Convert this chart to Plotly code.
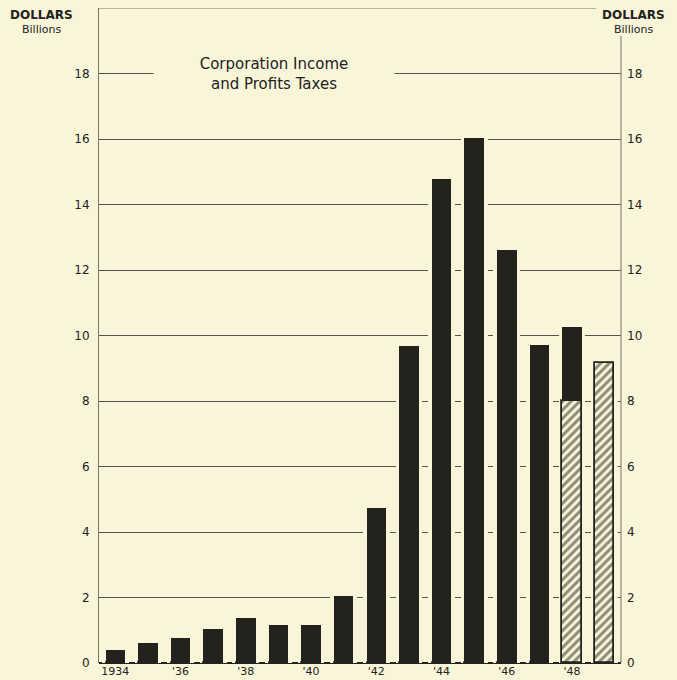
import plotly.graph_objects as go

years = list(range(1934, 1950))
solid_part = [0.4, 0.6, 0.75, 1.05, 1.37, 1.16, 1.15, 2.05, 4.74, 9.67, 14.77, 16.03, 12.6, 9.7, 2.25, 0.0]
hatched_part = [0, 0, 0, 0, 0, 0, 0, 0, 0, 0, 0, 0, 0, 0, 8.0, 9.15]
totals = [a + b for a, b in zip(solid_part, hatched_part)]
y_ticks = [0, 2, 4, 6, 8, 10, 12, 14, 16, 18]
x_tickvals = [1934, 1936, 1938, 1940, 1942, 1944, 1946, 1948]
x_ticktext = ["1934", "'36", "'38", "'40", "'42", "'44", "'46", "'48"]

BG = "#f9f5d9"
INK = "#23221d"
GRID = "#55544a"
FONT = "DejaVu Sans"

fig = go.Figure()
# cream halo behind bars (interrupts grid lines next to bars)
fig.add_trace(go.Bar(x=years, y=totals, width=0.82, marker=dict(color=BG, line=dict(width=0)),
                     hoverinfo="skip", showlegend=False))
fig.add_trace(go.Bar(x=years, y=hatched_part, width=0.6,
                     marker=dict(color=BG, line=dict(color=INK, width=1.8),
                                 pattern=dict(shape="/", fgcolor=INK, bgcolor=BG, size=6, solidity=0.5)),
                     showlegend=False))
fig.add_trace(go.Bar(x=years, y=solid_part, base=hatched_part, width=0.6,
                     marker=dict(color=INK, line=dict(width=0)), showlegend=False))
# invisible trace for right axis
fig.add_trace(go.Scatter(x=[years[0]], y=[0], yaxis="y2", mode="markers",
                         marker=dict(opacity=0), hoverinfo="skip", showlegend=False))

fig.update_layout(
    width=677, height=680,
    margin=dict(l=99, r=56, t=8, b=17),
    paper_bgcolor=BG, plot_bgcolor=BG,
    barmode="overlay", bargap=0,
    font=dict(family=FONT, color=INK, size=11),
    xaxis=dict(range=[1933.5, 1949.5], tickvals=x_tickvals, ticktext=x_ticktext,
               showgrid=False, zeroline=False, showline=False, ticks="",
               tickfont=dict(size=11), ticklabelstandoff=0, automargin=False),
    yaxis=dict(range=[0, 20], tickvals=y_ticks, showgrid=True, gridcolor=GRID, gridwidth=1,
               zeroline=True, zerolinecolor=INK, zerolinewidth=1.5,
               showline=True, linecolor="#77766a", linewidth=1, ticks="",
               ticklabelstandoff=6, tickfont=dict(size=12), automargin=False),
    yaxis2=dict(range=[0, 20], tickvals=y_ticks, overlaying="y", side="right",
                showgrid=False, zeroline=False, showline=False, ticks="",
                ticklabelstandoff=5, tickfont=dict(size=12), automargin=False),
    shapes=[
        dict(type="line", xref="paper", yref="y", x0=0, x1=0.953, y0=20, y1=20,
             line=dict(color="#77766a", width=1)),
        dict(type="line", xref="paper", yref="y", x0=1, x1=1, y0=0, y1=19.15,
             line=dict(color="#77766a", width=1)),
    ],
    annotations=[
        dict(text="Corporation Income<br>and Profits Taxes", xref="paper", yref="y",
             x=(274 - 99) / 522, y=18, xanchor="center", yanchor="middle", showarrow=False,
             bgcolor=BG, width=238, font=dict(size=15, family=FONT, color=INK)),
        dict(text="<b>DOLLARS</b>", xref="paper", yref="paper", x=(41 - 99) / 522, y=(680 - 15 - 17) / 655,
             xanchor="center", yanchor="middle", showarrow=False, font=dict(size=12)),
        dict(text="Billions", xref="paper", yref="paper", x=(41 - 99) / 522, y=(680 - 29 - 17) / 655,
             xanchor="center", yanchor="middle", showarrow=False, font=dict(size=11)),
        dict(text="<b>DOLLARS</b>", xref="paper", yref="paper", x=(633 - 99) / 522, y=(680 - 15 - 17) / 655,
             xanchor="center", yanchor="middle", showarrow=False, font=dict(size=12)),
        dict(text="Billions", xref="paper", yref="paper", x=(633 - 99) / 522, y=(680 - 29 - 17) / 655,
             xanchor="center", yanchor="middle", showarrow=False, font=dict(size=11)),
    ],
)

fig.write_html("out.html", config={"displayModeBar": False},
               post_script="document.body.style.margin='0';document.body.style.background='#f9f5d9';")
